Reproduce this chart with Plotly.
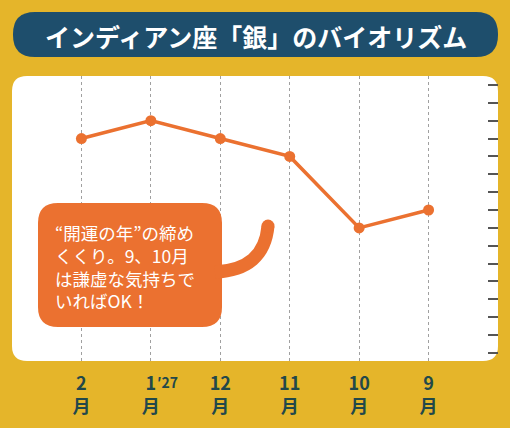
import plotly.graph_objects as go

W, H = 510, 428

months = ["2", "1", "12", "11", "10", "9"]
levels = [12, 13, 12, 11, 7, 8]
tick_labels = [m + "<br>月" for m in months]

title = "インディアン座「銀」のバイオリズム"
note = "“開運の年”の締め<br>くくり。9、10月<br>は謙虚な気持ちで<br>いればOK！"

YELLOW = "#E5B52A"
NAVY = "#1E4E6C"
ORANGE = "#EB7130"
DARK = "#22484A"


def px(x, y):
    # pixel -> paper (margins are zero)
    return x / W, 1 - y / H


def pth(points, close=True):
    s = ""
    for cmd, *xy in points:
        s += cmd
        for i in range(0, len(xy), 2):
            a, b = px(xy[i], xy[i + 1])
            s += f" {a:.5f},{b:.5f} "
    return s + ("Z" if close else "")


def rounded_rect(x0, y0, x1, y1, r):
    return pth([
        ("M", x0 + r, y0), ("L", x1 - r, y0), ("Q", x1, y0, x1, y0 + r),
        ("L", x1, y1 - r), ("Q", x1, y1, x1 - r, y1), ("L", x0 + r, y1),
        ("Q", x0, y1, x0, y1 - r), ("L", x0, y0 + r), ("Q", x0, y0, x0 + r, y0),
    ])


fig = go.Figure()
fig.add_trace(go.Scatter(
    x=months, y=levels, mode="lines+markers",
    line=dict(color=ORANGE, width=3.5),
    marker=dict(color=ORANGE, size=11),
    hoverinfo="skip", showlegend=False,
))

shapes = [
    dict(type="path", xref="paper", yref="paper", layer="below",
         path=rounded_rect(12, 76, 498, 361, 15), fillcolor="white", line_width=0),
    dict(type="path", xref="paper", yref="paper", layer="above",
         path=rounded_rect(13, 12, 498, 57, 22), fillcolor=NAVY, line_width=0),
    # speech bubble
    dict(type="path", xref="paper", yref="paper", layer="above",
         path=rounded_rect(38, 203, 222, 327, 20), fillcolor=ORANGE, line_width=0),
    dict(type="path", xref="paper", yref="paper", layer="above",
         path=pth([("M", 215, 272), ("Q", 264, 270, 268, 226)], close=False),
         line=dict(color=ORANGE, width=13), fillcolor="rgba(0,0,0,0)"),
]
cx, cy = px(268, 226)
shapes.append(dict(type="circle", xref="paper", yref="paper", layer="above",
                   x0=cx - 6.5 / W, x1=cx + 6.5 / W, y0=cy - 6.5 / H, y1=cy + 6.5 / H,
                   fillcolor=ORANGE, line_width=0))

tx, ty = px(256, 36)
nx, ny = px(53, 218)
annotations = [
    dict(text=title, x=tx, y=ty, xref="paper", yref="paper", showarrow=False,
         xanchor="center", yanchor="middle",
         font=dict(family="Noto Sans CJK JP", size=25, color="white", weight="bold")),
    dict(text=note, x=nx, y=ny, xref="paper", yref="paper", showarrow=False,
         xanchor="left", yanchor="top", align="left",
         font=dict(family="Noto Sans CJK JP", size=17.5, color="white")),
    dict(text="′27", x="1", y=px(0, 382)[1], xref="x", yref="paper", showarrow=False,
         xanchor="left", yanchor="middle", xshift=4,
         font=dict(family="Noto Sans CJK JP", size=14, color=DARK, weight="bold")),
]

fig.update_layout(
    width=W, height=H,
    margin=dict(l=0, r=0, t=0, b=0),
    paper_bgcolor=YELLOW, plot_bgcolor="rgba(0,0,0,0)",
    shapes=shapes, annotations=annotations,
    xaxis=dict(
        type="category", range=[-1, 6], domain=[12 / W, 498 / W],
        tickvals=months, ticktext=tick_labels, ticks="", ticklabelstandoff=10,
        showgrid=True, griddash="dot", gridcolor="#a0a0a0", gridwidth=1.3,
        showline=False, zeroline=False, automargin=False,
        tickfont=dict(family="Noto Sans CJK JP", size=18, color=DARK, weight="bold"),
    ),
    yaxis=dict(
        range=[-0.45, 15.5], domain=[1 - 361 / H, 1 - 76 / H],
        side="right", ticks="inside", ticklen=10, tickwidth=2, tickcolor="#555555",
        tick0=0, dtick=1, showticklabels=False, showgrid=False, zeroline=False,
        showline=False, automargin=False,
    ),
    yaxis2=dict(
        overlaying="y", range=[-0.45, 15.5], side="right",
        ticks="inside", ticklen=10, tickwidth=2, tickcolor="#C8764A",
        tickvals=[4, 9, 14], showticklabels=False, showgrid=False,
        zeroline=False, showline=False, automargin=False,
    ),
)

fig.write_html(
    "out.html",
    config={"displayModeBar": False},
    post_script="document.body.style.margin='0';document.body.style.overflow='hidden';",
)
